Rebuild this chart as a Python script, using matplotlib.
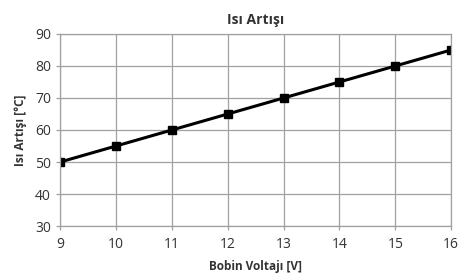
import matplotlib.pyplot as plt

# Bobin voltajı vs ısı artışı
voltaj = [9, 10, 11, 12, 13, 14, 15, 16]
isi_artisi = [50, 55, 60, 65, 70, 75, 80, 85]

plt.rcParams['font.family'] = ['Open Sans', 'DejaVu Sans']

fig = plt.figure(figsize=(4.59, 2.76), dpi=100)
ax = fig.add_axes([0.131, 0.181, 0.852, 0.696])

ax.plot(voltaj, isi_artisi, color='black', linewidth=2.2,
        marker='s', markersize=5.5)

ax.set_xlim(9, 16)
ax.set_ylim(30, 90)
ax.set_xticks(range(9, 17))
ax.set_yticks(range(30, 91, 10))

ax.grid(True, color='#a0a0a0', linewidth=0.9)
ax.set_axisbelow(True)
for s in ax.spines.values():
    s.set_color('#a0a0a0')
    s.set_linewidth(0.9)

ax.tick_params(axis='both', colors='#a0a0a0', labelcolor='#333333',
               labelsize=10, length=3, width=0.9)
ax.tick_params(axis='x', pad=5)

ax.set_title('Isı Artışı', fontsize=10, fontweight='bold', color='#333333', pad=7)
ax.set_xlabel('Bobin Voltajı [V]', fontsize=8.5, fontweight='bold', color='#333333', labelpad=6)
ax.set_ylabel('Isı Artışı [°C]', fontsize=8.5, fontweight='bold', color='#333333', labelpad=6)

fig.savefig('out.png', dpi=100)
